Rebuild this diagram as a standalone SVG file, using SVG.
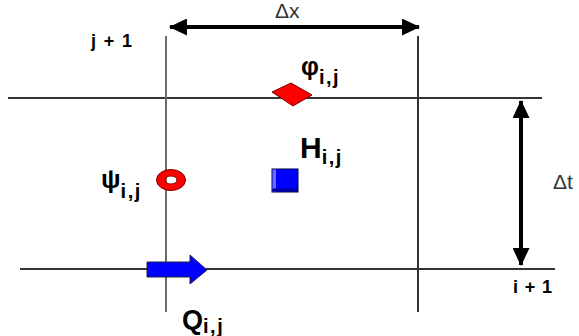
<svg xmlns="http://www.w3.org/2000/svg" width="579" height="336" viewBox="0 0 579 336">
<style>
.grid{stroke:#333;stroke-width:2;fill:none}
.gridv{stroke:#6b6b6b;stroke-width:2;fill:none}
.dim{stroke:#000;stroke-width:4;fill:none}
.lbl{font-family:"Liberation Sans",Arial,sans-serif;font-weight:bold;fill:#000}
.big{font-size:30px}
.greek{font-size:26px}
.phi{font-size:25px}
.sub{font-size:20px;letter-spacing:1.5px}
.idx{font-size:18px}
.delta{font-family:"Liberation Sans",Arial,sans-serif;font-size:21px;fill:#333}
</style>
<defs>
<marker id="ah" viewBox="0 0 18 17" refX="17" refY="8.5" markerWidth="18" markerHeight="17" markerUnits="userSpaceOnUse" orient="auto-start-reverse">
<path d="M0,0 L18,8.5 L0,17 Z" fill="#000"/>
</marker>
</defs>
<rect width="579" height="336" fill="#fff"/>
<g id="grid">
<line class="grid" x1="8" y1="98" x2="542" y2="98"/>
<line class="grid" x1="20" y1="269" x2="555" y2="269"/>
<line class="gridv" x1="166" y1="36" x2="166" y2="312"/>
<line class="grid" x1="418" y1="36" x2="418" y2="312"/>
</g>
<g id="connectors">
<line class="dim" x1="170" y1="27" x2="419" y2="27" marker-start="url(#ah)" marker-end="url(#ah)"/>
<line class="dim" x1="521" y1="101" x2="521" y2="265" marker-start="url(#ah)" marker-end="url(#ah)"/>
</g>
<g id="labels">
<text class="lbl idx" x="91" y="47" textLength="41" lengthAdjust="spacing">j+1</text>
<text class="lbl idx" x="513" y="293" textLength="39" lengthAdjust="spacing">i+1</text>
<text class="delta" x="275" y="18">Δx</text>
<text class="delta" x="553" y="189">Δt</text>
</g>
<g id="phi">
<polygon points="272,92 291,83 312,95 293,106" fill="#ff0000" stroke="#7a0000" stroke-width="1"/>
<text class="lbl" x="301" y="75"><tspan class="phi">φ</tspan><tspan class="sub" dy="9">i,j</tspan></text>
</g>
<g id="psi">
<path d="M156.5,180 a14.5,10.5 0 1,0 29,0 a14.5,10.5 0 1,0 -29,0 Z M165,180 a6,4 0 1,0 12,0 a6,4 0 1,0 -12,0 Z" fill="#ff0000" fill-rule="evenodd" stroke="#7a0000" stroke-width="1"/>
<text class="lbl" x="101" y="188"><tspan class="greek">ψ</tspan><tspan class="sub" dy="10">i,j</tspan></text>
</g>
<g id="H">
<rect x="272" y="169" width="26" height="23" fill="#0000ff" stroke="#000040" stroke-width="1"/>
<rect x="272.5" y="169.5" width="3.5" height="22" fill="#6a6aff"/>
<rect x="272.5" y="188.5" width="25" height="3" fill="#0000a0"/>
<text class="lbl" x="300" y="158"><tspan class="big">H</tspan><tspan class="sub" dy="6">i,j</tspan></text>
</g>
<g id="Q">
<polygon points="147,262 190,262 190,255 207,270 190,284 190,277 147,277" fill="#0000ff" stroke="#202040" stroke-width="1"/>
<text class="lbl" x="182" y="329"><tspan style="font-size:27px">Q</tspan><tspan class="sub" dy="4">i,j</tspan></text>
</g>
</svg>
